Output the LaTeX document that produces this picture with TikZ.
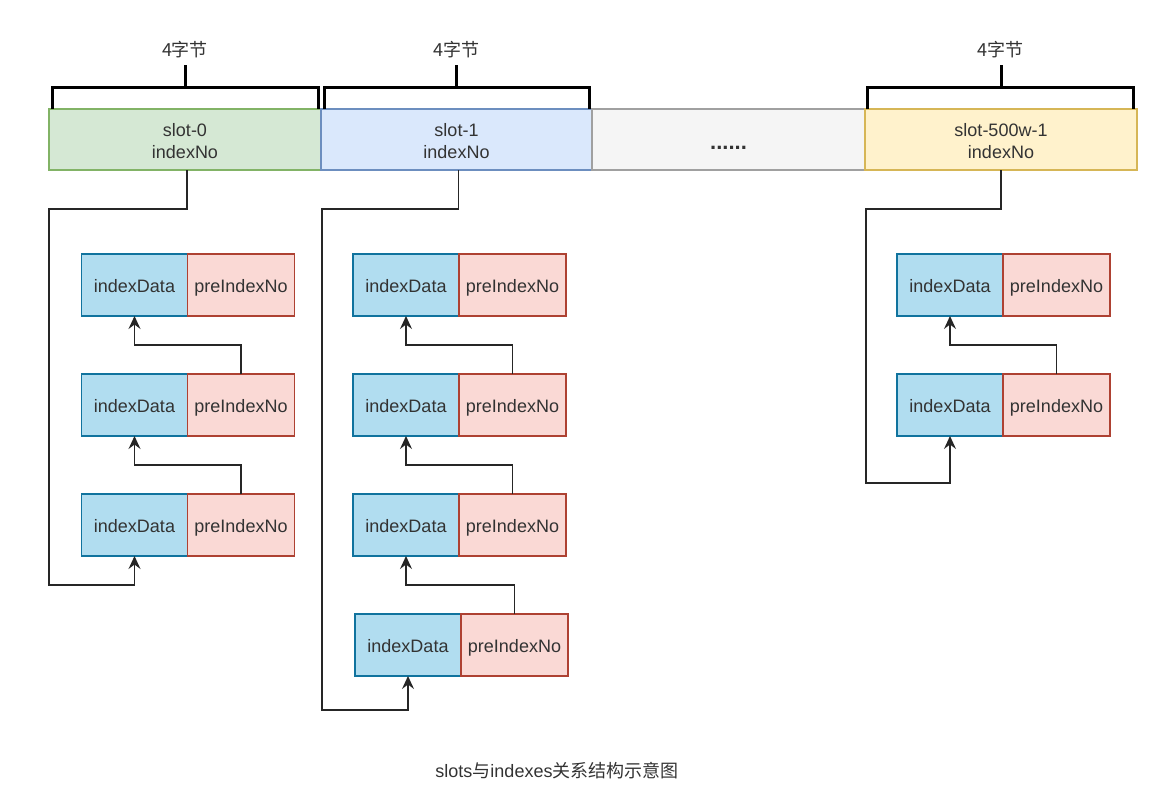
\documentclass[tikz,border=0pt]{standalone}
\usepackage{fontspec}
\setmainfont{Liberation Sans}
\newfontfamily\cjk{Noto Sans CJK SC}
\usetikzlibrary{arrows.meta}
\definecolor{txt}{HTML}{333333}
\definecolor{gfill}{HTML}{D5E8D4}\definecolor{gline}{HTML}{82B366}
\definecolor{bfill}{HTML}{DAE8FC}\definecolor{bline}{HTML}{6C8EBF}
\definecolor{nfill}{HTML}{F5F5F5}\definecolor{nline}{HTML}{A0A0A0}
\definecolor{yfill}{HTML}{FFF2CC}\definecolor{yline}{HTML}{D6B656}
\definecolor{dfill}{HTML}{B1DDF0}\definecolor{dline}{HTML}{10739E}
\definecolor{pfill}{HTML}{FAD9D5}\definecolor{pline}{HTML}{AE4132}
\newcommand{\topstrut}{\rule{0pt}{17pt}}
\begin{document}
\begin{tikzpicture}[x=1pt,y=-1pt,
  every node/.style={font=\fontsize{18}{22}\selectfont, text=txt, outer sep=0pt},
  slotbox/.style={draw, line width=1.5pt, minimum height=61pt, inner sep=0pt, align=center},
  databox/.style={draw=dline, fill=dfill, line width=1.5pt, minimum width=106pt, minimum height=62pt, inner sep=0pt, text height=14pt, text depth=0pt},
  prebox/.style={draw=pline, fill=pfill, line width=1.5pt, minimum width=107pt, minimum height=62pt, inner sep=0pt, text height=14pt, text depth=0pt, anchor=west},
  conn/.style={draw=black!85, line width=1.5pt, -{Stealth[length=13pt,width=12pt,inset=4.5pt]}},
  brack/.style={draw=black, line width=3pt, line join=miter},
  lab/.style={font=\fontsize{18}{22}\selectfont\cjk}
]
\useasboundingbox (0,0) rectangle (1156,793);

% slots
\node[slotbox, draw=gline, fill=gfill, minimum width=272pt] (s0) at (185,139.5) {\topstrut slot-0\\indexNo};
\node[slotbox, draw=bline, fill=bfill, minimum width=271pt] (s1) at (456.5,139.5) {\topstrut slot-1\\indexNo};
\node[slotbox, draw=nline, fill=nfill, minimum width=273pt, text height=19pt, text depth=0pt, font=\fontsize{22}{22}\selectfont\bfseries] (sd) at (728.5,139.5) {......};
\node[slotbox, draw=yline, fill=yfill, minimum width=272pt] (sn) at (1001,139.5) {\topstrut slot-500w-1\\indexNo};

% brackets
\draw[brack] ([xshift=3pt]s0.north west) -- ++(0,-22) -| ([xshift=-3pt]s0.north east);
\draw[brack] ([yshift=22pt]s0.north) coordinate (t0) -- ++(0,-22);
\node[lab] (l0) at (185,50) {4字节};
\draw[brack] ([xshift=3pt]s1.north west) -- ++(0,-22) -| ([xshift=-3pt]s1.north east);
\draw[brack] ([yshift=22pt]s1.north) coordinate (t1) -- ++(0,-22);
\node[lab] (l1) at (456.5,50) {4字节};
\draw[brack] ([xshift=2pt]sn.north west) -- ++(0,-22) -| ([xshift=-4pt]sn.north east);
\draw[brack] ([yshift=22pt]sn.north) coordinate (tn) -- ++(0,-22);
\node[lab] (ln) at (1000,50) {4字节};

% column 1
\node[databox] (d11) at (134.5,285) {indexData};
\node[prebox] (p11) at (d11.east) {preIndexNo};
\node[databox] (d12) at (134.5,405) {indexData};
\node[prebox] (p12) at (d12.east) {preIndexNo};
\node[databox] (d13) at (134.5,525) {indexData};
\node[prebox] (p13) at (d13.east) {preIndexNo};

% column 2
\node[databox] (d21) at (406,285) {indexData};
\node[prebox] (p21) at (d21.east) {preIndexNo};
\node[databox] (d22) at (406,405) {indexData};
\node[prebox] (p22) at (d22.east) {preIndexNo};
\node[databox] (d23) at (406,525) {indexData};
\node[prebox] (p23) at (d23.east) {preIndexNo};
\node[databox] (d24) at (408,645) {indexData};
\node[prebox] (p24) at (d24.east) {preIndexNo};

% column 3
\node[databox] (d31) at (950,285) {indexData};
\node[prebox] (p31) at (d31.east) {preIndexNo};
\node[databox] (d32) at (950,405) {indexData};
\node[prebox] (p32) at (d32.east) {preIndexNo};

% connectors column 1
\coordinate (c0a) at (49,209);
\coordinate (c0b) at (49,585);
\draw[conn] ([xshift=2pt]s0.south) |- (c0a) -- (c0b) -| (d13.south);
\draw[conn] (p13.north) -- ++(0,-29) -| (d12.south);
\draw[conn] (p12.north) -- ++(0,-29) -| (d11.south);

% connectors column 2
\coordinate (c1a) at (322,209);
\coordinate (c1b) at (322,710);
\draw[conn] ([xshift=2pt]s1.south) |- (c1a) -- (c1b) -| (d24.south);
\draw[conn] (p24.north) -- ++(0,-29) -| (d23.south);
\draw[conn] (p23.north) -- ++(0,-29) -| (d22.south);
\draw[conn] (p22.north) -- ++(0,-29) -| (d21.south);

% connectors column 3
\coordinate (cna) at (866,209);
\coordinate (cnb) at (866,483);
\draw[conn] (sn.south) |- (cna) -- (cnb) -| (d32.south);
\draw[conn] (p32.north) -- ++(0,-29) -| (d31.south);

% caption
\node (cap) at (557,771) {slots{\cjk 与}indexes{\cjk 关系结构示意图}};
\end{tikzpicture}
\end{document}
